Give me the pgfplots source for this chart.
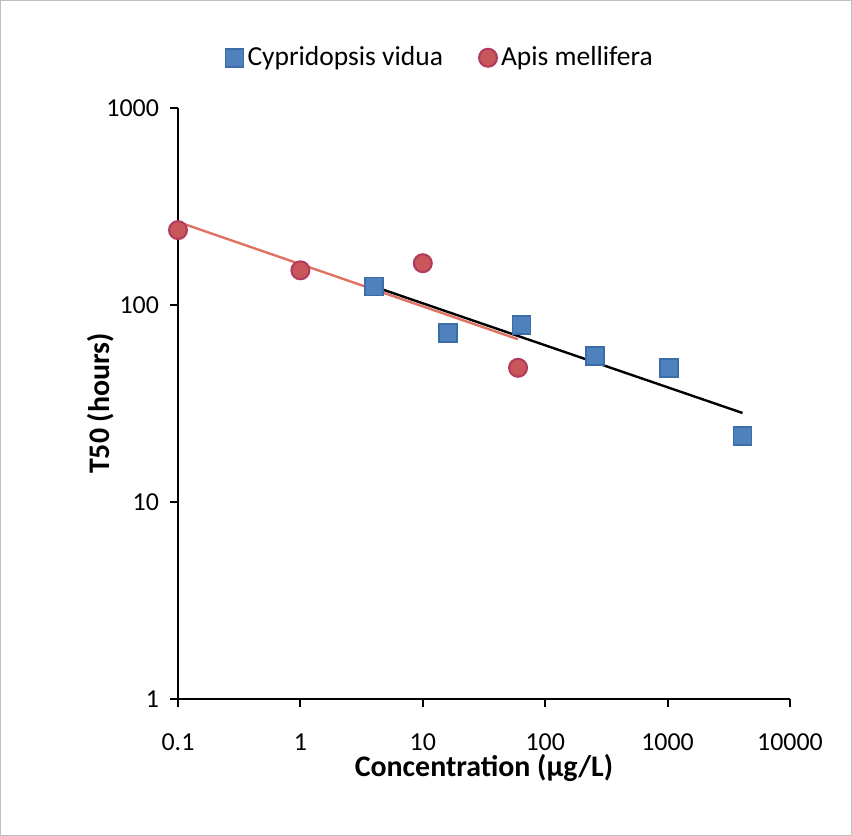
\documentclass[border=0pt]{standalone}
\usepackage{pgfplots}
\pgfplotsset{compat=1.18}
\usepackage{fontspec}
\setmainfont{Carlito}
\definecolor{cblue}{HTML}{4F81BD}
\definecolor{cblueedge}{HTML}{3C6DAA}
\definecolor{cred}{HTML}{C8565A}
\definecolor{crededge}{HTML}{B23A5C}
\definecolor{cline}{HTML}{E07263}
\begin{document}
\begin{tikzpicture}
\useasboundingbox (0,0) rectangle (426bp,418bp);
\draw[black!25, line width=0.6bp] (0.3bp,0.3bp) rectangle (425.7bp,417.7bp);
\begin{axis}[
 at={(89bp,68.5bp)}, anchor=south west,
 scale only axis, width=306bp, height=295.5bp,
 xmode=log, ymode=log,
 xmin=0.1, xmax=10000, ymin=1, ymax=1000,
 axis lines*=left,
 axis line style={line width=1bp},
 tick align=outside, major tick length=4bp,
 tick style={line width=1bp, black},
 xminorticks=false, yminorticks=false,
 xtick={0.1,1,10,100,1000,10000}, xticklabels={0.1,1,10,100,1000,10000},
 ytick={1,10,100,1000}, yticklabels={1,10,100,1000},
 ticklabel style={font=\fontsize{13}{15}\selectfont},
 xticklabel style={yshift=-10bp},
 yticklabel style={xshift=-2bp},
 xlabel={Concentration (µg/L)}, ylabel={T50 (hours)},
 label style={font=\bfseries\fontsize{15}{17}\selectfont},
 xlabel style={at={(axis description cs:0.5,-0.117)}, anchor=center},
 ylabel style={at={(axis description cs:-0.127,0.5)}, anchor=center},
 legend style={at={(axis description cs:0.43,1.085)}, anchor=center, draw=none, fill=none,
   font=\fontsize{13.8}{16}\selectfont, /tikz/every even column/.append style={column sep=16bp},
   legend cell align=left},
 legend columns=2,
 clip=false,
]
\addplot[only marks, mark=square*, mark size=4.5bp, mark options={fill=cblue, draw=cblueedge, line width=0.8bp}]
 coordinates {(4,124) (16,72) (64,79) (256,55) (1024,48) (4096,21.6)};
\addlegendentry{Cypridopsis vidua}
\addplot[only marks, mark=*, mark size=4.5bp, mark options={fill=cred, draw=crededge, line width=1bp}]
 coordinates {(0.1,240) (1,150) (10,163) (60,48)};
\addlegendentry{Apis mellifera}
\addplot[forget plot, cline, line width=1.2bp] coordinates {(0.1,264) (60,67)};
\addplot[forget plot, black, line width=1.2bp] coordinates {(4,124) (4096,28.3)};
\end{axis}
\end{tikzpicture}
\end{document}
